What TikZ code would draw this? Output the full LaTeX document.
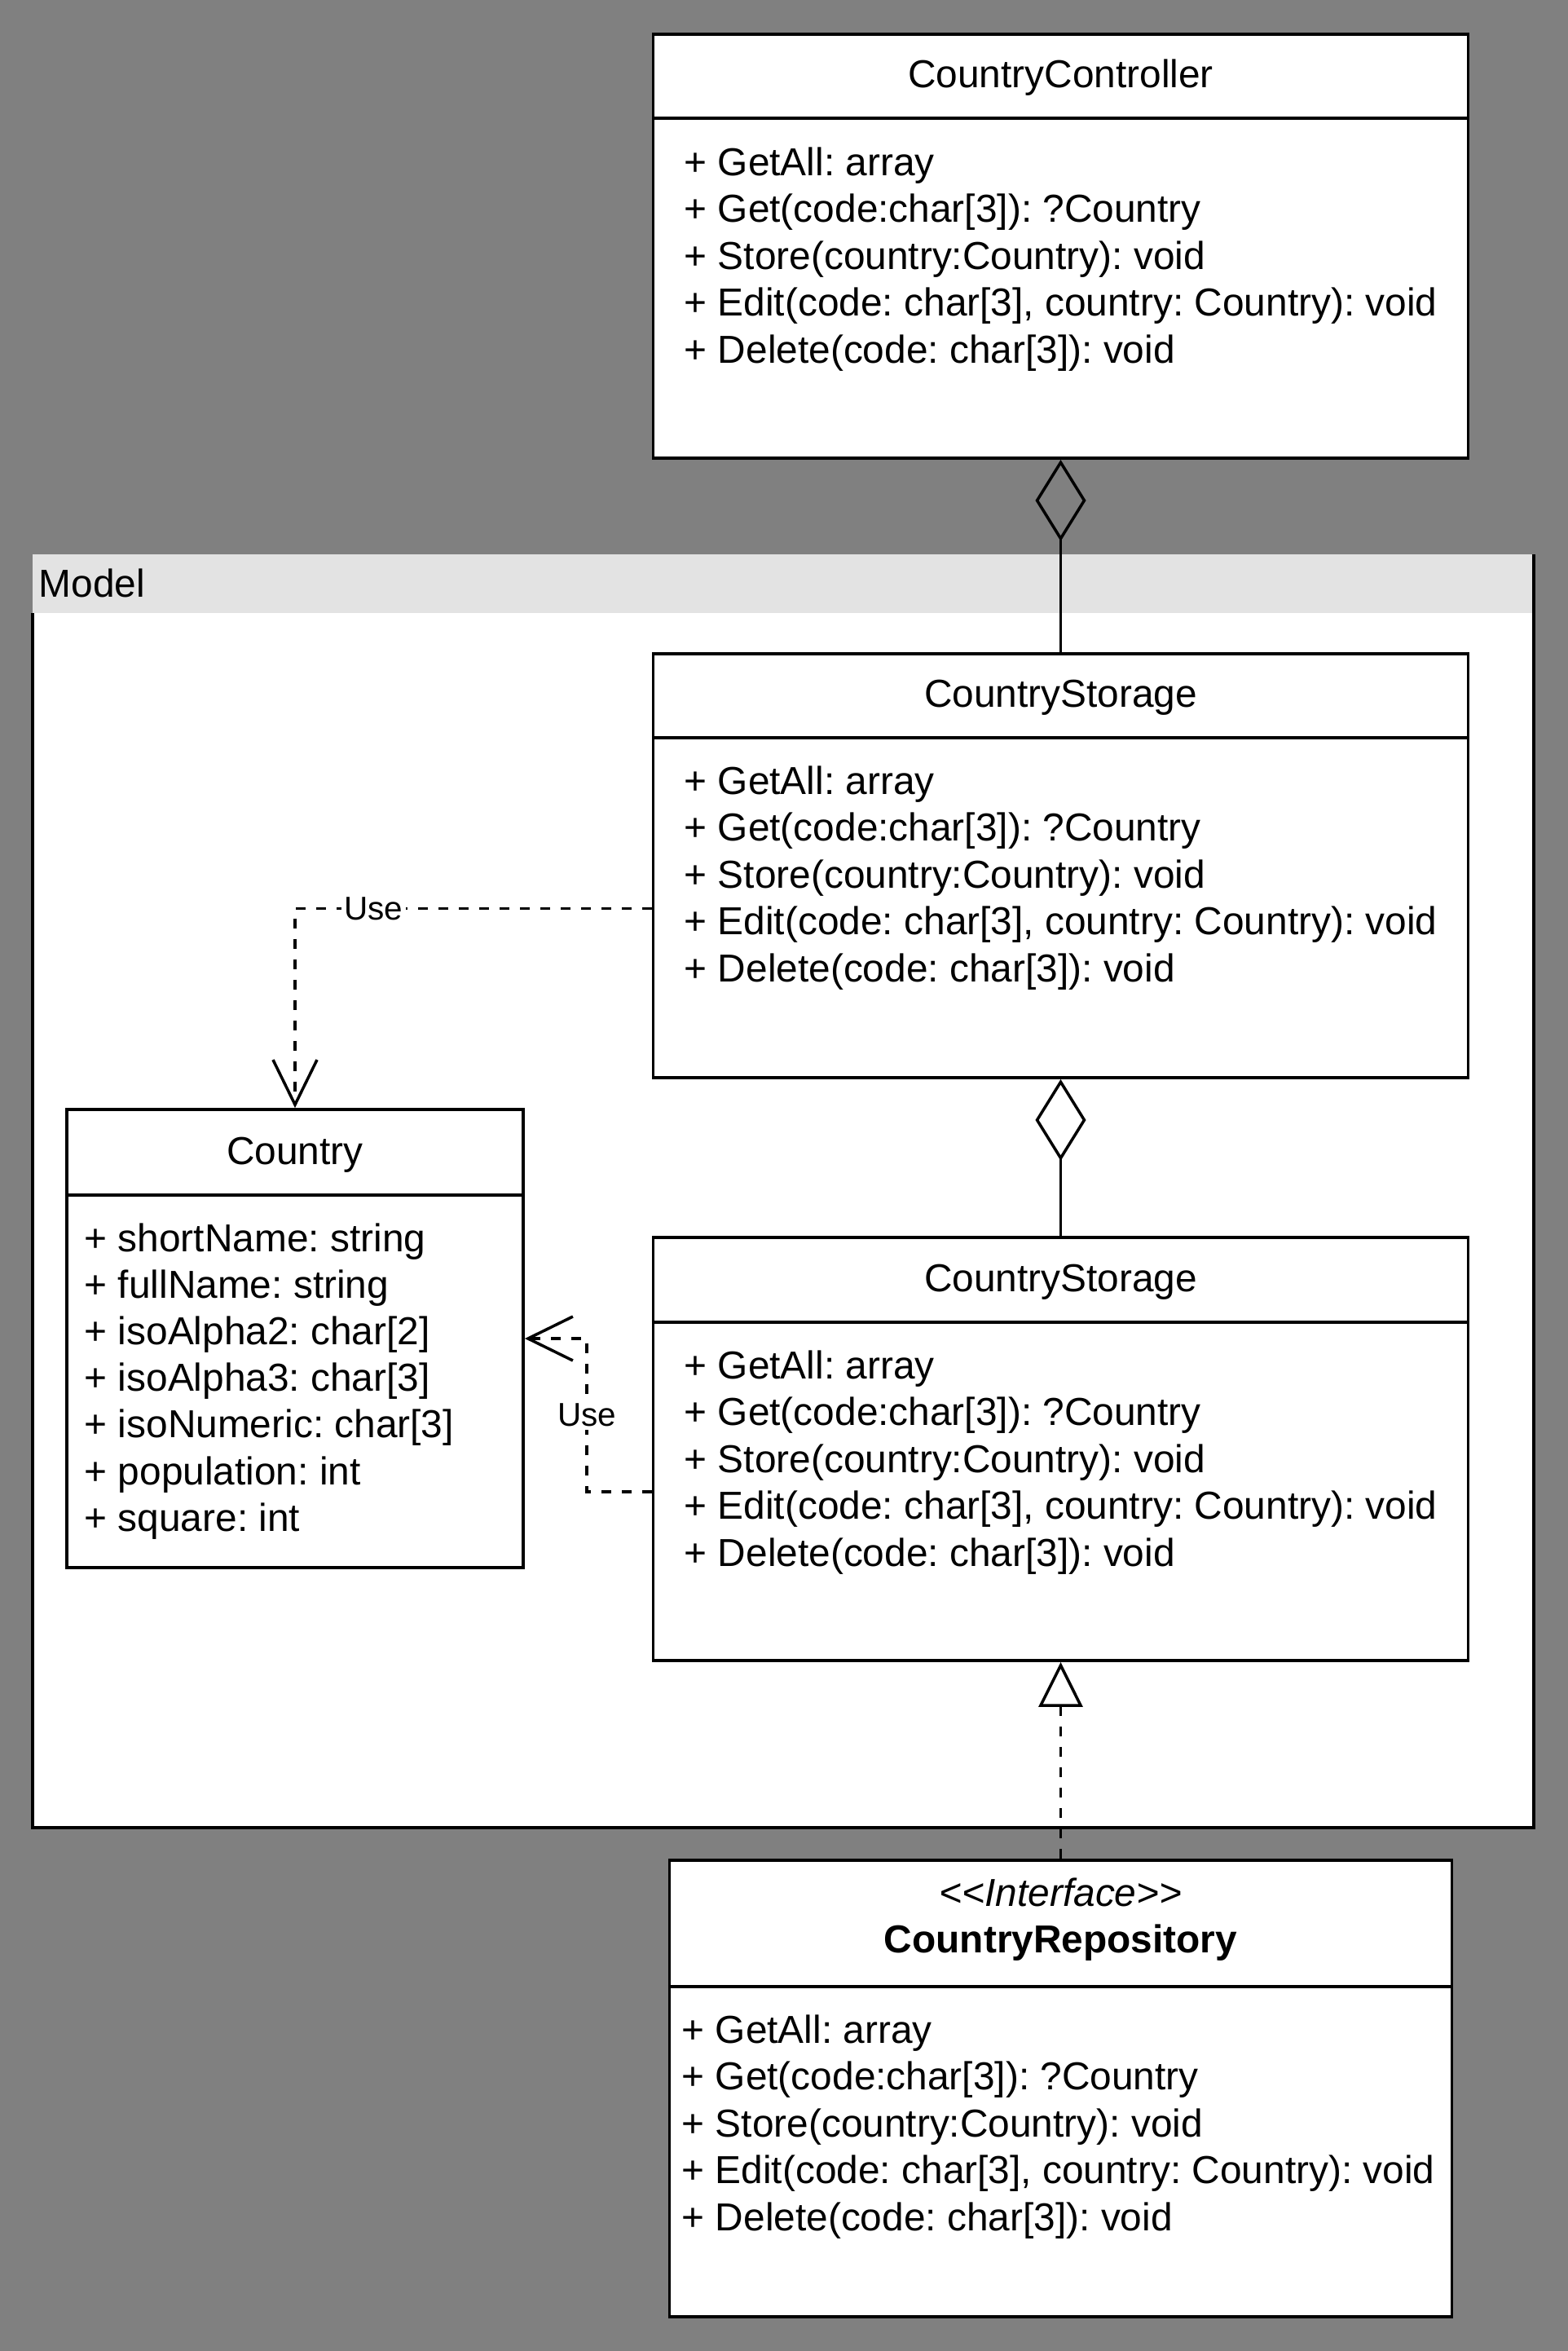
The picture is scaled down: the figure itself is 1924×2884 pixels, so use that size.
\documentclass[tikz,border=0pt]{standalone}
\usepackage{fontspec}
\setmainfont{Liberation Sans}
\frenchspacing
\usetikzlibrary{
  arrows.meta,
  calc,
}
\definecolor{canvas}{RGB}{128,128,128}
\definecolor{band}{RGB}{227,227,227}
\tikzset{
  >=Straight Barb[],
  cls/.style={draw, fill=white, line width=1pt, inner sep=0pt},
  member/.style={inner sep=0pt, font=\fontsize{13.6}{16.5}\selectfont},
  aggr/.style={line width=1pt, -{Diamond[open, length=1cm, width=0.62cm]}},
  realize/.style={line width=1pt, dash pattern=on 0.12cm off 0.13cm,
    -{Triangle[open, length=0.55cm, width=0.54cm]}},
  use/.style={line width=1pt, dash pattern=on 0.12cm off 0.13cm,
    -{Straight Barb[length=0.55cm, width=0.54cm]}},
  uselabel/.style={fill=white, inner sep=1pt, font=\fontsize{11.5}{13}\selectfont},
}
\newcommand{\storageops}{{+ GetAll: array}, {+ Get(code:char[3]): ?Country},
  {+ Store(country:Country): void}, {+ Edit(code: char[3], country: Country): void},
  {+ Delete(code: char[3]): void}}

\begin{document}
\begin{tikzpicture}[x=0.01cm, y=-0.01cm]
      \useasboundingbox (0,0) rectangle (1924,2884);
      \fill[canvas] (0,0) rectangle (1924,2884);
      % Model frame
      \fill[white] (40,752) rectangle (1882,2242);
      \fill[band] (40,680) rectangle (1882,752);
      \draw[line width=1pt] (40,752) -- (40,2242) -- (1882,2242) -- (1882,680);
      \node[member, anchor=base west] (model) at (47,732) {Model};
      % classes
      \node[cls, minimum width=9.99cm, minimum height=5.2cm] (ctrl) at (1301.5,302) {};
      \node[cls, minimum width=9.99cm, minimum height=5.2cm] (st1) at (1301.5,1062) {};
      \node[cls, minimum width=9.99cm, minimum height=5.19cm] (st2) at (1301.5,1777.5) {};
      \node[cls, minimum width=9.59cm, minimum height=5.6cm] (repo) at (1301.5,2562) {};
      \node[cls, minimum width=5.6cm, minimum height=5.62cm] (country) at (362,1642) {};
      \foreach \b/\d in {ctrl/145, st1/905, st2/1622, repo/2437, country/1466}
      {
        \draw[line width=1pt] (\b.west |- 0,\d) -- (\b.east |- 0,\d);
      }
      \node[member, anchor=base] (ctrl-title) at (1301.5,107) {CountryController};
      \node[member, anchor=base] (st1-title) at (1301.5,867) {CountryStorage};
      \node[member, anchor=base] (st2-title) at (1301.5,1584) {CountryStorage};
      \node[member, anchor=base] (country-title) at (362,1428) {Country};
      \node[member, anchor=base] (repo-stereo) at (1301.5,2338) {\itshape <{}<Interface>{}>};
      \node[member, anchor=base] (repo-title) at (1301.5,2395) {\bfseries CountryRepository};
      \foreach \b/\bx/\by in {ctrl/839/215, st1/839/974, st2/839/1691, repo/836/2506}
      {
        \foreach \t [count=\i] in \storageops
        {
          \node[member, anchor=base west] (\b-op\i) at (\bx, {\by+57.5*(\i-1)}) {\t};
        }
      }
      \foreach \t [count=\i] in {{+ shortName: string}, {+ fullName: string},
        {+ isoAlpha2: char[2]}, {+ isoAlpha3: char[3]}, {+ isoNumeric: char[3]},
        {+ population: int}, {+ square: int}}
      {
        \node[member, anchor=base west] (country-at\i) at (103, {1535+57.2*(\i-1)}) {\t};
      }
      % relations
      \draw[aggr] (st1) -- (ctrl);
      \draw[aggr] (st2) -- (st1);
      \draw[realize] (repo) -- (st2);
      \draw[use] ($(st1.north west)!0.6!(st1.south west)$) -| node[uselabel, pos=0.39] (use1) {Use} (country.north);
      \draw[use] ($(st2.north west)!0.6!(st2.south west)$) -- ++(-80,0) |- node[uselabel, pos=0.25] (use2) {Use} (country.east);
\end{tikzpicture}
\end{document}
